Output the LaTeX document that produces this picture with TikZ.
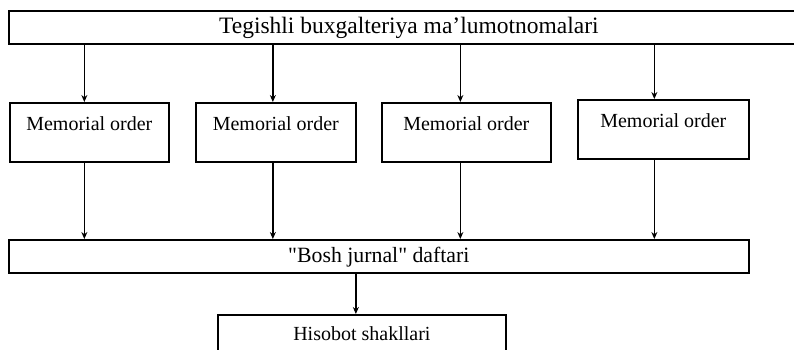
\documentclass[tikz,border=0pt]{standalone}
\usepackage{fontspec}
\setmainfont{Liberation Serif}
\usetikzlibrary{arrows.meta}

\begin{document}
\begin{tikzpicture}[x=1pt, y=-1pt, >={Stealth[length=7pt,width=6pt]}]

  % ---------- Styling ----------
  \tikzset{
    box/.style={draw, line width=1.7pt, inner sep=0pt, anchor=north west,
      font=\fontsize{20}{24}\selectfont},
    wide/.style={box, text height=23pt, text depth=10pt},
    memo/.style={box, text height=28pt, text depth=31pt},
    flow/.style={draw, line width=1.7pt, ->}
  }

  % ---------- Frame ----------
  \useasboundingbox[fill=white] (0,0) rectangle (794,349);
  \clip (0,0) rectangle (794,349);

  % ---------- Top box ----------
  \node[wide, minimum width=800pt, font=\fontsize{23.5}{28}\selectfont] (src) at (8,10)
    {Tegishli buxgalteriya ma’lumotnomalari};

  % ---------- Memorial orders ----------
  \node[memo, minimum width=159pt] (m1) at (9,102) {Memorial order};
  \node[memo, minimum width=160pt] (m2) at (195,102) {Memorial order};
  \node[memo, minimum width=169pt] (m3) at (381,102) {Memorial order};
  \node[memo, minimum width=171pt] (m4) at (577,99) {Memorial order};

  % ---------- General journal ----------
  \node[wide, minimum width=740pt, font=\fontsize{21.8}{26}\selectfont] (gj) at (8,239)
    {\textquotedbl Bosh jurnal\textquotedbl{} daftari};

  % ---------- Reports ----------
  \node[box, minimum width=288pt, text height=26pt, text depth=20pt] (rep) at (217,314) {Hisobot shakllari};

  % ---------- Arrow columns ----------
  \coordinate (c1) at ([xshift=-5pt]m1.center);
  \coordinate (c2) at ([xshift=-3pt]m2.center);
  \coordinate (c3) at ([xshift=-6pt]m3.center);
  \coordinate (c4) at ([xshift=-9pt]m4.center);
  \coordinate (c5) at ([xshift=-6pt]rep.center);

  % ---------- Connectors ----------
  \draw[flow] (c1 |- src.south) -- (c1 |- m1.north);
  \draw[flow] (c2 |- src.south) -- (c2 |- m2.north);
  \draw[flow] (c3 |- src.south) -- (c3 |- m3.north);
  \draw[flow] (c4 |- src.south) -- (c4 |- m4.north);

  \draw[flow] (c1 |- m1.south) -- (c1 |- gj.north);
  \draw[flow] (c2 |- m2.south) -- (c2 |- gj.north);
  \draw[flow] (c3 |- m3.south) -- (c3 |- gj.north);
  \draw[flow] (c4 |- m4.south) -- (c4 |- gj.north);

  \draw[flow] (c5 |- gj.south) -- (c5 |- rep.north);

\end{tikzpicture}
\end{document}
